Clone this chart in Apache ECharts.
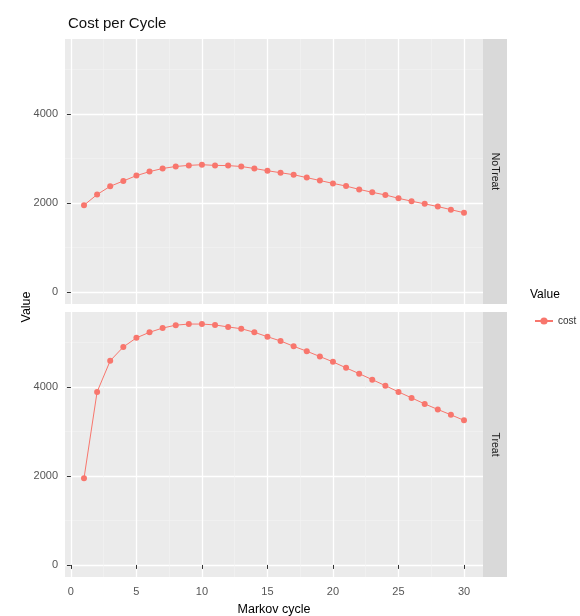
<!DOCTYPE html>
<html>
<head>
<meta charset="utf-8">
<script src="https://cdn.jsdelivr.net/npm/echarts@6/dist/echarts.min.js"></script>
<style>
  html, body { margin: 0; padding: 0; background: #fff; }
  #chart { width: 580px; height: 616px; }
</style>
</head>
<body>
<div id="chart"></div>
<script>
// data
var cycles = [1, 2, 3, 4, 5, 6, 7, 8, 9, 10, 11, 12, 13, 14, 15, 16, 17, 18, 19, 20, 21, 22, 23, 24, 25, 26, 27, 28, 29, 30];
var noTreatCost = [1950, 2190, 2375, 2495, 2615, 2705, 2775, 2820, 2845, 2860, 2845, 2840, 2820, 2775, 2725, 2680, 2635, 2570, 2505, 2440, 2380, 2305, 2240, 2180, 2105, 2040, 1980, 1920, 1850, 1780];
var treatCost = [1950, 3890, 4590, 4900, 5105, 5230, 5325, 5390, 5415, 5415, 5395, 5350, 5310, 5230, 5130, 5035, 4915, 4805, 4685, 4565, 4430, 4300, 4165, 4030, 3890, 3755, 3620, 3495, 3375, 3250];
var panels = ["NoTreat", "Treat"];
var xMajor = [0, 5, 10, 15, 20, 25, 30];
var xMinor = [2.5, 7.5, 12.5, 17.5, 22.5, 27.5];
var yMajor = [0, 2000, 4000];
var yMinor = [1000, 3000, 5000];

var font = "'Liberation Sans', Arial, sans-serif";
var red = "#F8766D";
var grids = [
  { left: 65, top: 39, width: 418, height: 265 },
  { left: 65, top: 312, width: 418, height: 265 }
];

function pairs(ys) {
  return cycles.map(function (c, i) { return [c, ys[i]]; });
}
function plain(v) { return String(v); }

var xAxes = [], yAxes = [];
grids.forEach(function (g, gi) {
  // major x
  xAxes.push({
    type: "value", gridIndex: gi, min: -0.45, max: 31.45,
    axisLine: { show: false },
    axisTick: { show: gi === 1, customValues: xMajor, length: 4, lineStyle: { color: "#333" } },
    axisLabel: { show: gi === 1, customValues: xMajor, formatter: plain, color: "#555", fontSize: 11, fontFamily: font, margin: 9 },
    splitLine: { show: true, lineStyle: { color: "#fff", width: 1.3 } },
    name: gi === 1 ? "Markov cycle" : "", nameLocation: "middle", nameGap: 26,
    nameTextStyle: { color: "#000", fontSize: 12.5, fontFamily: font }
  });
  // minor x
  xAxes.push({
    type: "value", gridIndex: gi, min: -0.45, max: 31.45,
    axisLine: { show: false },
    axisTick: { show: false, customValues: xMinor },
    axisLabel: { show: false, customValues: xMinor },
    splitLine: { show: true, lineStyle: { color: "#F4F4F4", width: 0.6 } }
  });
  yAxes.push({
    type: "value", gridIndex: gi, min: -271, max: 5686,
    axisLine: { show: false },
    axisTick: { show: true, customValues: yMajor, length: 4, lineStyle: { color: "#333" } },
    axisLabel: { show: true, customValues: yMajor, formatter: plain, color: "#555", fontSize: 11, fontFamily: font, margin: 7 },
    splitLine: { show: true, lineStyle: { color: "#fff", width: 1.3 } }
  });
  yAxes.push({
    type: "value", gridIndex: gi, min: -271, max: 5686,
    axisLine: { show: false },
    axisTick: { show: false, customValues: yMinor },
    axisLabel: { show: false, customValues: yMinor },
    splitLine: { show: true, lineStyle: { color: "#F4F4F4", width: 0.6 } }
  });
});

var graphics = [];
grids.forEach(function (g, gi) {
  graphics.push({
    type: "rect", left: g.left + g.width, top: g.top, silent: true,
    shape: { width: 24, height: g.height },
    style: { fill: "#D9D9D9" }
  });
  graphics.push({
    type: "text", x: g.left + g.width + 12, y: g.top + g.height / 2,
    rotation: -Math.PI / 2, silent: true,
    style: { text: panels[gi], fill: "#1A1A1A", font: "10.5px " + font, align: "center", verticalAlign: "middle" }
  });
});
graphics.push({
  type: "text", x: 27, y: 307, rotation: Math.PI / 2, silent: true,
  style: { text: "Value", fill: "#000", font: "12.5px " + font, align: "center", verticalAlign: "middle" }
});
graphics.push({
  type: "text", x: 530, y: 295, silent: true,
  style: { text: "Value", fill: "#000", font: "12px " + font, align: "left", verticalAlign: "middle" }
});

var option = {
  animation: false,
  backgroundColor: "#fff",
  title: {
    text: "Cost per Cycle", left: 63, top: 11,
    textStyle: { color: "#111", fontSize: 15, fontWeight: "normal", fontFamily: font }
  },
  legend: {
    data: ["cost"], left: 529, top: 311, orient: "vertical",
    itemWidth: 18, itemHeight: 9, itemGap: 4,
    textStyle: { color: "#333", fontSize: 10, fontFamily: font }
  },
  grid: grids.map(function (g) {
    return {
      left: g.left, top: g.top, width: g.width, height: g.height,
      outerBoundsMode: "none",
      show: true, backgroundColor: "#EBEBEB", borderWidth: 0
    };
  }),
  xAxis: xAxes,
  yAxis: yAxes,
  graphic: graphics,
  series: [
    {
      name: "cost", type: "line", xAxisIndex: 0, yAxisIndex: 0,
      data: pairs(noTreatCost), symbol: "circle", symbolSize: 6,
      itemStyle: { color: red }, lineStyle: { color: red, width: 1 }, z: 5
    },
    {
      name: "cost", type: "line", xAxisIndex: 2, yAxisIndex: 2,
      data: pairs(treatCost), symbol: "circle", symbolSize: 6,
      itemStyle: { color: red }, lineStyle: { color: red, width: 1 }, z: 5
    }
  ]
};

var chart = echarts.init(document.getElementById("chart"), null, { renderer: "canvas" });
chart.setOption(option);
</script>
</body>
</html>
